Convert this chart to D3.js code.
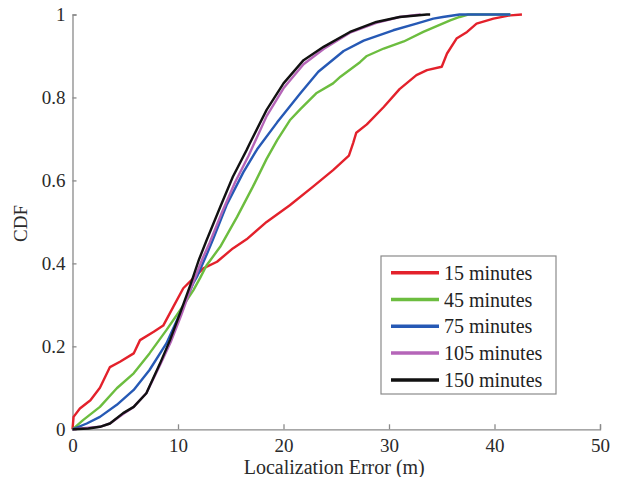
<!DOCTYPE html>
<html><head><meta charset="utf-8">
<script src="https://cdn.jsdelivr.net/npm/d3@7"></script>
<style>
body{margin:0;background:#fff}
svg text{font-family:"Liberation Serif",Tinos,"Times New Roman",Times !important;}
</style>
</head><body>
<script>
// Data (x: localization error in m, y: CDF)
const seriesNames = ["15 minutes","45 minutes","75 minutes","105 minutes","150 minutes"];
const colors = ["#e3212b","#6cbd3f","#2659b5","#b565b8","#111111"];
const xTicks = [0,10,20,30,40,50];
const yTicks = [0,0.2,0.4,0.6,0.8,1];
const yTickLabels = ["0","0.2","0.4","0.6","0.8","1"];

const red15 = [[0,0],[0.1,0.03],[0.7,0.05],[1.7,0.07],[2.6,0.10],[3.55,0.15],[4.5,0.163],[5.8,0.183],[6.4,0.215],[7.7,0.235],[8.6,0.25],[9.55,0.295],[10.5,0.34],[11.3,0.36],[12.4,0.388],[13.7,0.404],[15.2,0.436],[16.5,0.458],[18.4,0.50],[20.6,0.54],[22.8,0.585],[24.7,0.625],[26.2,0.66],[26.6,0.69],[26.9,0.715],[27.9,0.735],[29.5,0.777],[31.0,0.82],[32.6,0.854],[33.6,0.866],[35.0,0.874],[35.5,0.906],[36.4,0.942],[37.4,0.958],[38.3,0.978],[39.9,0.99],[41.5,0.998],[42.6,1.0]];
const green45 = [[0,0],[1.0,0.022],[2.6,0.054],[4.2,0.099],[5.8,0.135],[7.3,0.183],[8.9,0.239],[10.2,0.287],[11.45,0.335],[12.1,0.365],[12.7,0.395],[14.0,0.44],[15.6,0.512],[17.1,0.585],[18.4,0.652],[19.4,0.697],[20.6,0.745],[21.6,0.772],[23.1,0.81],[24.7,0.834],[25.4,0.85],[27.25,0.885],[27.9,0.9],[29.5,0.918],[31.4,0.935],[33.25,0.958],[34.8,0.975],[35.8,0.986],[36.7,0.994],[37.5,1.0],[41.5,1.0]];
const blue75 = [[0,0],[1.35,0.014],[2.6,0.03],[4.2,0.059],[5.8,0.095],[7.3,0.143],[8.9,0.207],[10.2,0.28],[11.45,0.352],[11.8,0.368],[12.7,0.42],[13.35,0.46],[14.6,0.54],[16.2,0.62],[17.5,0.675],[19.4,0.74],[21.6,0.81],[23.3,0.862],[25.7,0.912],[27.6,0.937],[30.4,0.962],[32.6,0.978],[34.2,0.99],[35.1,0.994],[36.7,1.0],[41.5,1.0]];
const magenta105 = [[0,0],[2.6,0.006],[3.55,0.014],[4.8,0.037],[5.8,0.054],[7.0,0.087],[8.3,0.155],[9.3,0.21],[10.3,0.275],[11.3,0.345],[12.3,0.41],[13.0,0.45],[14.2,0.525],[15.4,0.595],[16.7,0.66],[18.4,0.755],[20.0,0.822],[21.9,0.88],[23.8,0.917],[26.3,0.956],[28.8,0.98],[31.0,0.994],[33.0,1.0]];
const black150 = [[0,0],[1.5,0.002],[2.6,0.006],[3.55,0.014],[4.8,0.039],[5.8,0.054],[7.0,0.087],[8.3,0.159],[9.24,0.215],[10.2,0.28],[11.2,0.35],[12.0,0.41],[12.7,0.455],[14.0,0.536],[15.2,0.609],[16.5,0.673],[16.8,0.689],[18.4,0.77],[20.0,0.834],[21.9,0.89],[23.8,0.922],[26.3,0.958],[28.8,0.982],[31.0,0.994],[33.6,1.0],[33.9,1.0]];
const allSeries = [red15, green45, blue75, magenta105, black150];

const W = 621, H = 477;
const m = {left:72.5, right:21, top:14.5, bottom:47.7};
const serifFamily = "Liberation Serif";
const axisColor = "#8a8a8a";

const svg = d3.select("body").append("svg").attr("width", W).attr("height", H)
  .attr("font-family", serifFamily).style("display", "block");
const x = d3.scaleLinear().domain([0,50]).range([m.left, W - m.right]);
const y = d3.scaleLinear().domain([0,1]).range([H - m.bottom, m.top]);

// Axes
const xAxis = svg.append("g").attr("transform", `translate(0,${y(0)})`)
  .call(d3.axisBottom(x).tickValues(xTicks).tickSize(-5).tickPadding(9).tickFormat(d3.format("d")));
const yAxis = svg.append("g").attr("transform", `translate(${x(0)},0)`)
  .call(d3.axisLeft(y).tickValues(yTicks).tickSize(-4).tickPadding(7).tickFormat((d,i)=>yTickLabels[i]));
[xAxis, yAxis].forEach(g => {
  g.attr("font-family", serifFamily).attr("font-size", 19);
  g.select(".domain").attr("stroke", axisColor).attr("stroke-width", 1.3);
  g.selectAll(".tick line").attr("stroke", axisColor).attr("stroke-width", 1.3);
  g.selectAll(".tick text").attr("fill", "#2a2a2a").attr("font-family", serifFamily).attr("font-size", 19);
});

// Lines
const line = d3.line().x(d => x(d[0])).y(d => y(d[1]));
allSeries.forEach((s, i) => {
  svg.append("path").datum(s).attr("d", line).attr("fill", "none")
    .attr("stroke", colors[i]).attr("stroke-width", 2.4).attr("stroke-linejoin", "round");
});

// Axis labels
svg.append("text").attr("x", (x(0)+x(50))/2 - 2).attr("y", 474).attr("text-anchor", "middle")
  .attr("font-family", serifFamily).attr("font-size", 20).attr("fill", "#2a2a2a").text("Localization Error (m)");
svg.append("text").attr("transform", `translate(27,223.5) rotate(-90)`).attr("text-anchor", "middle")
  .attr("font-family", serifFamily).attr("font-size", 19).attr("fill", "#2a2a2a").text("CDF");

// Legend
const lg = svg.append("g");
lg.append("rect").attr("x", 381).attr("y", 256).attr("width", 175).attr("height", 138)
  .attr("fill", "#fff").attr("stroke", axisColor).attr("stroke-width", 1.2);
seriesNames.forEach((name, i) => {
  const cy = 272.7 + i * 26.8;
  lg.append("line").attr("x1", 391).attr("x2", 439).attr("y1", cy).attr("y2", cy)
    .attr("stroke", colors[i]).attr("stroke-width", 3.5);
  lg.append("text").attr("x", 444).attr("y", cy).attr("dy", "0.35em")
    .attr("font-family", serifFamily).attr("font-size", 20).attr("fill", "#222").text(name);
});
</script>
</body></html>
